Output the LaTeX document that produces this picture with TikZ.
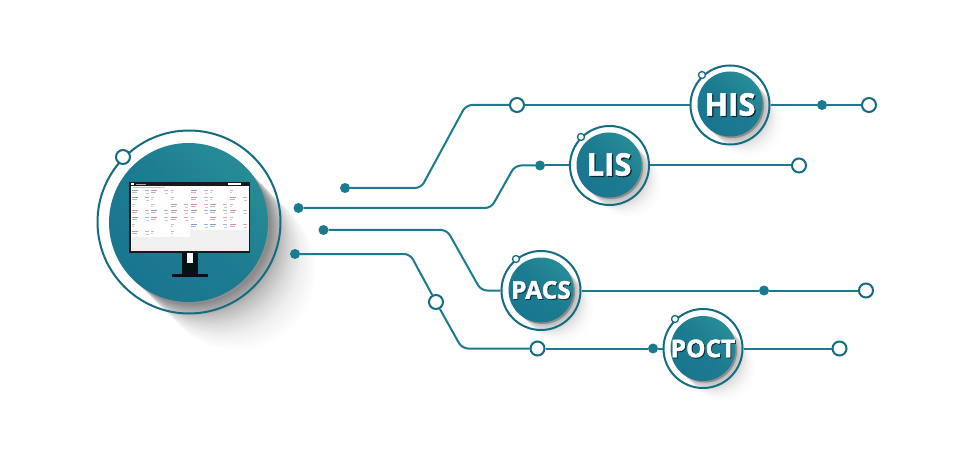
\documentclass[tikz,border=0pt]{standalone}
\usepackage{fontspec}
\setmainfont{Open Sans}[BoldFeatures={FakeBold=1.6}]
\definecolor{tealline}{HTML}{1A7A90}
\definecolor{tealdark}{HTML}{1A7690}
\definecolor{tealmid}{HTML}{1C7B90}
\definecolor{teallight}{HTML}{278C97}
\definecolor{ringcol}{HTML}{136C82}
\definecolor{crescent}{HTML}{8E8E8E}
\tikzset{
  conn/.style={draw=tealline,line width=2pt,rounded corners=6pt},
  dotnode/.style={circle,fill=tealline,inner sep=0pt,minimum size=10pt},
  opennode/.style={circle,draw=ringcol,fill=white,line width=2pt,inner sep=0pt,minimum size=14pt},
  tinyring/.style={circle,draw=ringcol,fill=white,line width=1.3pt,inner sep=0pt,minimum size=7pt},
  ringnode/.style={circle,draw=ringcol,line width=2pt,inner sep=0pt,minimum size=79pt},
  discnode/.style={circle,inner sep=0pt,minimum size=65pt,shading=axis,bottom color=tealdark,top color=teallight,middle color=tealmid,shading angle=-45},
  labeltext/.style={inner sep=0pt,text=white,font=\bfseries},
  labelshade/.style={inner sep=0pt,text=black!65!tealdark,font=\bfseries},
}
\newcommand{\cardmark}[3]{%
  \fill[#3!80] (#1,#2-.3) rectangle ++(6,1.5);
  \fill[gray!55] (#1,#2+1.8) rectangle ++(5,.8);
  \fill[#3!60] (#1+13,#2-.3) rectangle ++(3.5,1.4);
  \fill[gray!45] (#1+14,#2+3) rectangle ++(2.5,1);
}
\newcommand{\smallmark}[2]{%
  \fill[gray!50] (#1,#2) rectangle ++(2.5,1.2);
  \fill[gray!35] (#1,#2+2) rectangle ++(1.8,.8);
}
\begin{document}
\begin{tikzpicture}[x=1pt,y=-1pt]
\fill[white] (0,0) rectangle (976,454);
\useasboundingbox (0,0) rectangle (976,454);

% long soft shadows
\foreach \d in {1,...,70}{
  \pgfmathsetmacro{\op}{.022*(1-\d/70)^2}
  \fill[black,opacity=\op,shift={(\d,\d)}] (188.5,222.5) circle (79);}
\foreach \d in {1,...,28}{
  \pgfmathsetmacro{\op}{.035*(1-\d/28)^2}
  \fill[black,opacity=\op,shift={(\d,\d)}] (730,104) circle (32);
  \fill[black,opacity=\op,shift={(\d,\d)}] (609,165) circle (32);
  \fill[black,opacity=\op,shift={(\d,\d)}] (541,290) circle (32);
  \fill[black,opacity=\op,shift={(\d,\d)}] (703,348.5) circle (32);
}
\fill[crescent] (190,224) circle (79.5);
\fill[crescent] (732,106) circle (32);
\fill[crescent] (611,167) circle (32);
\fill[crescent] (543,292) circle (32);
\fill[crescent] (705,350.5) circle (32);

% main computer
\node[circle,draw=ringcol,line width=2pt,inner sep=0pt,minimum size=183pt] (mainring) at (189,222) {};
\node[discnode,minimum size=159pt] (maindisc) at (188.5,222.5) {};
\node[opennode] (mainsmall) at (123,157) {};

% monitor
\fill[black!85!tealdark] (182,253) rectangle (198,274);
\fill[white] (187,253) rectangle (193,263);
\fill[black!85!tealdark] (172,274) rectangle (208,276.5);
\fill[black!90] (129,182) rectangle (250,253);
\fill[white] (130.5,186) rectangle (248.5,251);
\fill[white] (228,183.5) rectangle (241,185.5);
\fill[white] (131,183) rectangle (134,185.5);
\fill[gray!70] (136,184) rectangle (146,185);
\fill[gray!45] (133,187.2) rectangle (165,188);
\fill[gray!12] (130.5,237) rectangle (248.5,251);
\fill[gray!12] (190,230) rectangle (248.5,237);
\definecolor{cb}{HTML}{5B86C9}
\definecolor{cp}{HTML}{D56A8E}
\foreach \x/\y/\c in {132/190/cb,151/190/cp,191/190/cb,132/197/cb,191/197/cp,230/197/cp,171/204/cp,191/204/cp,210/204/cp,132/210/cp,151/210/cb,171/210/cp,191/210/cb,210/210/cb,230/210/cp,132/217/cb,151/217/cp,171/217/cp,210/217/cp,191/224/cb,210/224/cb,230/224/cp,132/231/cp}
  {\cardmark{\x}{\y}{\c}}
\foreach \x/\y in {171/190,210/190,230/190,151/197,171/197,210/197,132/204,151/204,230/204,191/217,230/217,132/224,171/224,151/231,171/231}
  {\smallmark{\x}{\y}}

% rings and discs
\node[ringnode] (his) at (730,105) {};
\node[discnode] (hisd) at (730,104) {};
\node[tinyring] (hiss) at (702,75) {};
\node[ringnode] (lis) at (609.5,165.5) {};
\node[discnode] (lisd) at (609,165) {};
\node[tinyring] (liss) at (581,137) {};
\node[ringnode] (pacs) at (541,290.5) {};
\node[discnode] (pacsd) at (541,290) {};
\node[tinyring] (pacss) at (516,259) {};
\node[ringnode] (poct) at (703,348.5) {};
\node[discnode] (poctd) at (703,348.5) {};
\node[tinyring] (pocts) at (675,319) {};

% labels
\node[labelshade,font=\bfseries\fontsize{31}{31}\selectfont] at (731.2,105.7) {HIS};
\node[labeltext,font=\bfseries\fontsize{31}{31}\selectfont] (histext) at (730,104.5) {HIS};
\node[labelshade,font=\bfseries\fontsize{31}{31}\selectfont] at (610.2,165.7) {LIS};
\node[labeltext,font=\bfseries\fontsize{31}{31}\selectfont] (listext) at (609,164.5) {LIS};
\node[labelshade,font=\bfseries\fontsize{24.5}{24.5}\selectfont] at (541.9,290.9) {PACS};
\node[labeltext,font=\bfseries\fontsize{24.5}{24.5}\selectfont] (pacstext) at (541,290) {PACS};
\node[labelshade,font=\bfseries\fontsize{24.5}{24.5}\selectfont] at (703.9,349.4) {POCT};
\node[labeltext,font=\bfseries\fontsize{24.5}{24.5}\selectfont] (poctext) at (703,348.5) {POCT};

% end points along the connectors
\node[dotnode] (a0) at (345,188) {};
\node[opennode] (a1) at (517,105) {};
\node[dotnode] (a2) at (822,105) {};
\node[opennode] (a3) at (869,105) {};
\node[dotnode] (b0) at (298.5,208) {};
\node[dotnode] (b1) at (540,165.5) {};
\node[opennode] (b2) at (799,165.5) {};
\node[dotnode] (c0) at (323.5,230) {};
\node[dotnode] (c1) at (764,290.5) {};
\node[opennode] (c2) at (866,290.5) {};
\node[dotnode] (d0) at (295,254) {};
\node[opennode] (d1) at (436,302) {};
\node[opennode] (d2) at (537.5,348.5) {};
\node[dotnode] (d3) at (653,348.5) {};
\node[opennode] (d4) at (839.5,348.5) {};

% bends
\coordinate (a0b) at (421,188);
\coordinate (a1b) at (466,105);
\coordinate (b0b) at (491,208);
\coordinate (b1b) at (515,165.5);
\coordinate (c0b) at (447,230);
\coordinate (c1b) at (481,290.5);
\coordinate (d0b) at (410,254);
\coordinate (d1b) at (462,348.5);

% connectors
\path[conn] (a0) -- (a0b) -- (a1b) -- (a1);
\path[conn] (a1) -- (his);
\path[conn] (his) -- (a2);
\path[conn] (a2) -- (a3);
\path[conn] (b0) -- (b0b) -- (b1b) -- (b1);
\path[conn] (b1) -- (lis);
\path[conn] (lis) -- (b2);
\path[conn] (c0) -- (c0b) -- (c1b) -- (pacs);
\path[conn] (pacs) -- (c1);
\path[conn] (c1) -- (c2);
\path[conn] (d0) -- (d0b) -- (d1);
\path[conn] (d1) -- (d1b) -- (d2);
\path[conn] (d2) -- (d3);
\path[conn] (d3) -- (poct);
\path[conn] (poct) -- (d4);
\end{tikzpicture}
\end{document}
